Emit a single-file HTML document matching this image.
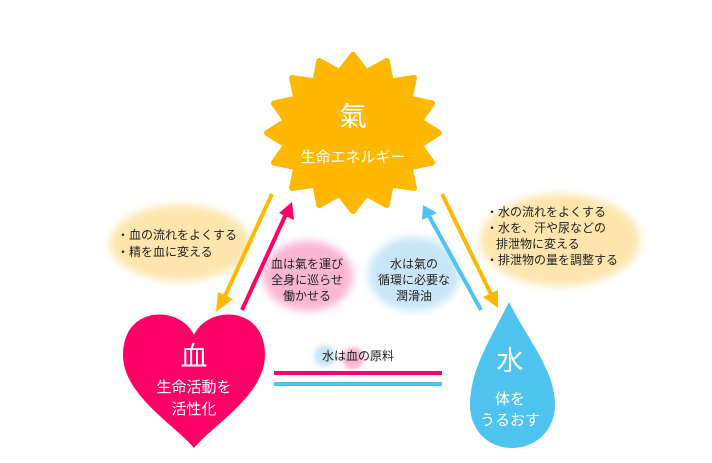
<!DOCTYPE html>
<html><head><meta charset="utf-8"><style>
html,body{margin:0;padding:0;background:#fff}
svg{display:block}
text{font-family:"Liberation Sans","Noto Sans CJK JP",sans-serif}
</style></head><body>
<svg width="712" height="463" viewBox="0 0 712 463">
<defs>
<filter id="b" x="-30%" y="-30%" width="160%" height="160%"><feGaussianBlur stdDeviation="4"/></filter>
<filter id="s" x="-50%" y="-50%" width="200%" height="200%"><feGaussianBlur stdDeviation="2"/></filter>
</defs>
<!-- blobs -->
<ellipse cx="180" cy="243" rx="70" ry="38" fill="#fde5ad" filter="url(#b)"/>
<ellipse cx="560" cy="240" rx="80" ry="46" fill="#fde5ad" filter="url(#b)"/>
<ellipse cx="308" cy="276" rx="45" ry="35" fill="#f9b6d3" filter="url(#b)"/>
<ellipse cx="414" cy="274" rx="46" ry="37" fill="#c9e6f8" filter="url(#b)"/>
<circle cx="325" cy="356" r="11" fill="#c9e6f8" filter="url(#s)"/>
<circle cx="353" cy="358" r="11" fill="#f9b6d3" filter="url(#s)"/>
<!-- sun -->
<polygon fill="#ffb800" stroke="#ffb800" stroke-width="6" stroke-linejoin="round" points="353,55 366.3,72.2 386.7,61 390.8,81.5 414,78 409.5,98.6 432,103.4 419.7,120.9 439,133 419.7,145.1 432,162.6 409.5,167.4 414,188 390.8,184.5 386.7,205 366.3,193.8 353,211 339.7,193.8 319.3,205 315.2,184.5 292,188 296.5,167.4 274,162.6 286.3,145.1 267,133 286.3,120.9 274,103.4 296.5,98.6 292,78 315.2,81.5 319.3,61 339.7,72.2"/>
<!-- arrows -->
<line x1="272" y1="194" x2="224" y2="298" stroke="#ffb800" stroke-width="4"/>
<polygon points="216,312 218,292 233,299" fill="#ffb800"/>
<line x1="242" y1="310" x2="286" y2="214" stroke="#ff0066" stroke-width="4"/>
<polygon points="292,202 294,220 279,213" fill="#ff0066"/>
<line x1="481" y1="310" x2="429" y2="216" stroke="#4fc3ef" stroke-width="4"/>
<polygon points="423,205 437,213 422,220" fill="#4fc3ef"/>
<line x1="442" y1="194" x2="491" y2="294" stroke="#ffb800" stroke-width="4"/>
<polygon points="498,308 483,297 498,290" fill="#ffb800"/>
<!-- lines -->
<rect x="274" y="371" width="168" height="4" fill="#ff0066"/>
<rect x="274" y="382" width="168" height="4" fill="#4fc3ef"/>
<!-- heart -->
<path d="M194,335 C180,305 123,305 123,355 C123,395 175,425 194,448 C213,425 265,395 265,355 C265,305 208,305 194,335Z" fill="#ff0066"/>
<!-- drop -->
<path d="M509,302 C490,340 470,370 470,405 C470,430 488,448 512,448 C536,448 555,430 555,405 C555,370 528,340 509,302Z" fill="#4fc3ef"/>
<!-- texts -->
<g fill="#fff" text-anchor="middle">
<text x="353" y="126" font-size="27">氣</text>
<text x="353" y="162" font-size="15">生命エネルギー</text>
<text x="194" y="366" font-size="27">血</text>
<text x="194" y="392" font-size="15">生命活動を</text>
<text x="194" y="414" font-size="15">活性化</text>
<text x="510" y="370" font-size="27">水</text>
<text x="510" y="404" font-size="15">体を</text>
<text x="510" y="425" font-size="15">うるおす</text>
</g>
<g fill="#222" font-size="12">
<text x="117" y="239">・血の流れをよくする</text>
<text x="117" y="256">・精を血に変える</text>
<text x="486" y="216">・水の流れをよくする</text>
<text x="486" y="232">・水を、汗や尿などの</text>
<text x="496" y="248">排泄物に変える</text>
<text x="486" y="264">・排泄物の量を調整する</text>
</g>
<g fill="#222" font-size="12" text-anchor="middle">
<text x="307" y="268">血は氣を運び</text>
<text x="307" y="284">全身に巡らせ</text>
<text x="307" y="300">働かせる</text>
<text x="414" y="268">水は氣の</text>
<text x="414" y="284">循環に必要な</text>
<text x="414" y="300">潤滑油</text>
<text x="358" y="360">水は血の原料</text>
</g>
</svg>
</body></html>
